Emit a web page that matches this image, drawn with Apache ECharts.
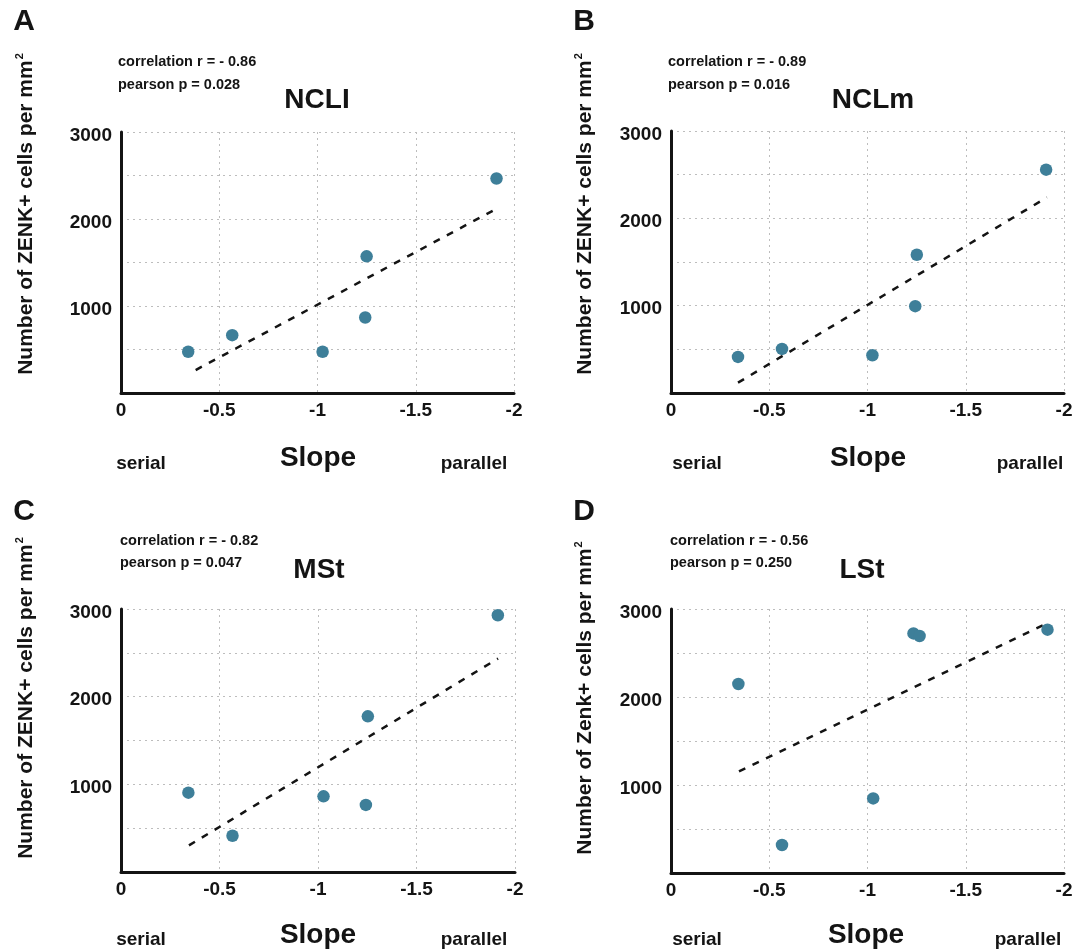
<!DOCTYPE html>
<html>
<head>
<meta charset="utf-8">
<script src="https://cdn.jsdelivr.net/npm/echarts@6/dist/echarts.min.js"></script>
<style>
html,body{margin:0;padding:0;background:#fff;}
#chart{width:1084px;height:951px;}
</style>
</head>
<body>
<div id="chart"></div>
<script>
// ---- data ----
const panelLetters = ['A', 'B', 'C', 'D'];
const regionNames = ['NCLI', 'NCLm', 'MSt', 'LSt'];
const correlationR = ['- 0.86', '- 0.89', '- 0.82', '- 0.56'];
const pearsonP = ['0.028', '0.016', '0.047', '0.250'];
const yTitles = ['Number of ZENK+ cells per mm', 'Number of ZENK+ cells per mm', 'Number of ZENK+ cells per mm', 'Number of Zenk+ cells per mm'];
const xTickLabels = ['0', '-0.5', '-1', '-1.5', '-2'];
const yTickLabels = ['1000', '2000', '3000'];
const xAxisTitle = 'Slope';
const leftEndLabel = 'serial';
const rightEndLabel = 'parallel';

const slopeA = [-0.342, -0.566, -1.026, -1.243, -1.250, -1.911];
const zenkA  = [474, 665, 474, 868, 1571, 2466];
const trendSlopeA = [-0.38, -1.911];
const trendZenkA  = [264, 2118];

const slopeB = [-0.341, -0.565, -1.025, -1.243, -1.251, -1.909];
const zenkB  = [413, 505, 432, 994, 1583, 2557];
const trendSlopeB = [-0.341, -1.913];
const trendZenkB  = [118, 2240];

const slopeC = [-0.342, -0.566, -1.028, -1.243, -1.253, -1.913];
const zenkC  = [905, 414, 863, 765, 1776, 2929];
const trendSlopeC = [-0.345, -1.914];
const trendZenkC  = [304, 2435];

const slopeD = [-0.343, -0.565, -1.029, -1.234, -1.265, -1.916];
const zenkD  = [2148, 318, 848, 2723, 2693, 2765];
const trendSlopeD = [-0.346, -1.916];
const trendZenkD  = [1155, 2841];

// ---- layout ----
const FONT = '"Liberation Sans", Arial, Helvetica, sans-serif';
const INK = '#141414';
const DOT = '#3e7f99';
const grids = [
  {left: 121, top: 132, width: 393, height: 261},
  {left: 671, top: 131, width: 393, height: 262},
  {left: 121, top: 609, width: 394, height: 263},
  {left: 671, top: 609, width: 393, height: 264}
];
const textPos = [
  {letter:[24,22], corr:[118,62], pear:[118,85], title:[317,100], ytitle:[26,214], slope:[318,458], serial:[141,464], parallel:[474,464]},
  {letter:[584,22], corr:[668,62], pear:[668,85], title:[873,100], ytitle:[585,214], slope:[868,458], serial:[697,464], parallel:[1030,464]},
  {letter:[24,512], corr:[120,541], pear:[120,563], title:[319,570], ytitle:[26,698], slope:[318,935], serial:[141,940], parallel:[474,940]},
  {letter:[584,512], corr:[670,541], pear:[670,563], title:[862,570], ytitle:[585,698], slope:[866,935], serial:[697,940], parallel:[1028,940]}
];

const seriesData = [
  [slopeA, zenkA, trendSlopeA, trendZenkA],
  [slopeB, zenkB, trendSlopeB, trendZenkB],
  [slopeC, zenkC, trendSlopeC, trendZenkC],
  [slopeD, zenkD, trendSlopeD, trendZenkD]
];

function zip(a, b) { return a.map((v, i) => [v, b[i]]); }

const xAxes = [], yAxes = [], series = [], graphics = [];
grids.forEach((g, i) => {
  xAxes.push({
    type: 'value', gridIndex: i, min: -2, max: 0, interval: 0.5, inverse: true,
    axisLine: {show: true, onZero: false, lineStyle: {color: INK, width: 3}},
    axisTick: {show: false},
    axisLabel: {
      fontSize: 19, fontWeight: 'bold', fontFamily: FONT, color: INK, margin: 8,
      formatter: v => { const idx = Math.round(-v / 0.5); return xTickLabels[idx] || ''; }
    },
    splitLine: {show: true, lineStyle: {color: '#bdbdbd', width: 1, type: [2, 4]}}
  });
  yAxes.push({
    type: 'value', gridIndex: i, min: 0, max: 3000, interval: 500, position: 'left',
    axisLine: {show: true, onZero: false, lineStyle: {color: INK, width: 3}},
    axisTick: {show: false},
    axisLabel: {
      fontSize: 19, fontWeight: 'bold', fontFamily: FONT, color: INK, margin: 9,
      formatter: v => (yTickLabels.indexOf(String(v)) >= 0 ? '{t|' + String(v) + '}' : ''),
      rich: {t: {fontSize: 19, fontWeight: 'bold', fontFamily: FONT, color: INK, padding: [7, 0, 0, 0]}}
    },
    splitLine: {show: true, lineStyle: {color: '#bdbdbd', width: 1, type: [2, 4]}}
  });
  const [sx, sy, tx, ty] = seriesData[i];
  series.push({
    type: 'line', xAxisIndex: i, yAxisIndex: i, data: zip(tx, ty), symbol: 'none',
    lineStyle: {color: INK, width: 2.5, type: [7, 8]}, z: 2, silent: true
  });
  series.push({
    type: 'scatter', xAxisIndex: i, yAxisIndex: i, data: zip(sx, sy), symbolSize: 12.5,
    itemStyle: {color: DOT, opacity: 1}, z: 3, silent: true
  });

  const p = textPos[i];
  const txt = (str, pos, size, align, weight) => ({
    type: 'text', x: pos[0], y: pos[1], silent: true,
    style: {text: str, fill: INK, fontSize: size, fontWeight: weight || 'bold', fontFamily: FONT,
            align: align || 'center', verticalAlign: 'middle', textAlign: align || 'center', textVerticalAlign: 'middle'}
  });
  graphics.push(txt(panelLetters[i], p.letter, 30));
  graphics.push(txt('correlation r = ' + correlationR[i], p.corr, 14.5, 'left'));
  graphics.push(txt('pearson p = ' + pearsonP[i], p.pear, 14.5, 'left'));
  graphics.push(txt(regionNames[i], p.title, 28));
  graphics.push(txt(xAxisTitle, p.slope, 28));
  graphics.push(txt(leftEndLabel, p.serial, 19));
  graphics.push(txt(rightEndLabel, p.parallel, 19));
  graphics.push({
    type: 'text', x: p.ytitle[0], y: p.ytitle[1], rotation: Math.PI / 2, silent: true,
    style: {
      text: '{m|' + yTitles[i] + '}{sup|2}',
      align: 'center', verticalAlign: 'middle', textAlign: 'center', textVerticalAlign: 'middle',
      rich: {
        m: {fontSize: 21, fontWeight: 'bold', fontFamily: FONT, fill: INK, color: INK, lineHeight: 24},
        sup: {fontSize: 11, fontWeight: 'bold', fontFamily: FONT, fill: INK, color: INK, verticalAlign: 'top', lineHeight: 24, padding: [0, 0, 10, 1]}
      }
    }
  });
});

const chart = echarts.init(document.getElementById('chart'), null, {renderer: 'canvas'});
chart.setOption({
  animation: false,
  backgroundColor: '#ffffff',
  grid: grids.map(g => Object.assign({containLabel: false}, g)),
  xAxis: xAxes,
  yAxis: yAxes,
  series: series,
  graphic: graphics
});
</script>
</body>
</html>
